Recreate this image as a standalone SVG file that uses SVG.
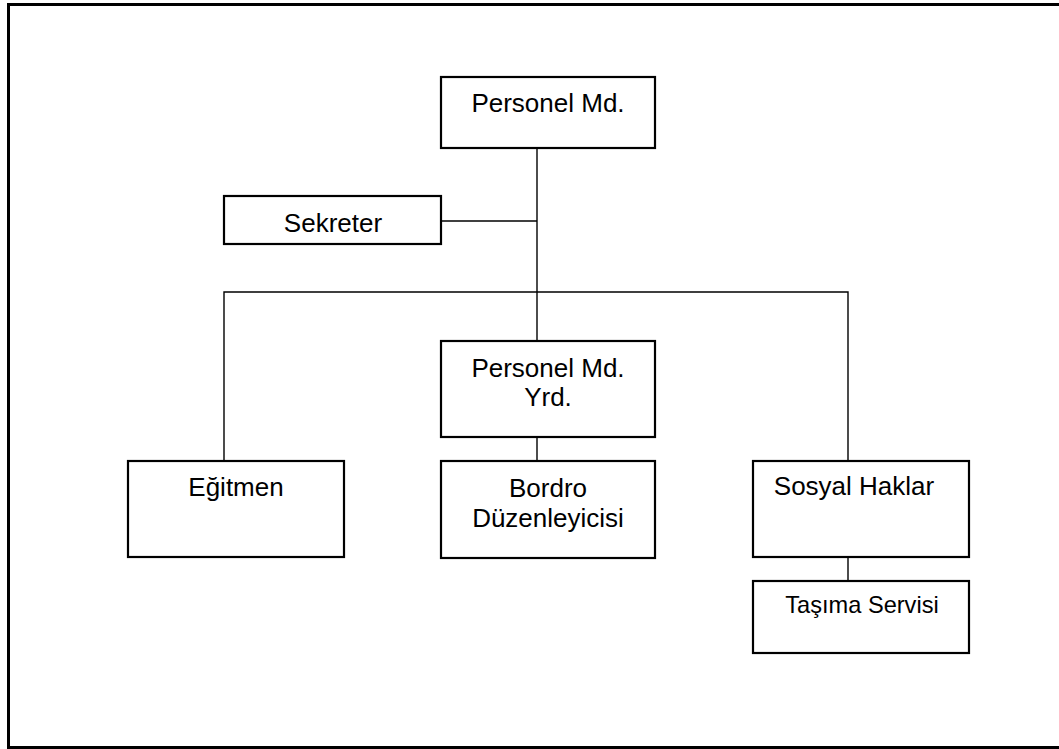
<svg xmlns="http://www.w3.org/2000/svg" width="1059" height="749" viewBox="0 0 1059 749">
<style>
.box{fill:#fff;stroke:#000;stroke-width:2.2}
.ln{stroke:#000;stroke-width:1.4;fill:none}
.t{font-family:"Liberation Sans",Arial,sans-serif;font-size:26px;text-anchor:middle;fill:#000}
</style>
<rect x="0" y="0" width="1059" height="749" fill="#fff"/>
<rect x="8.5" y="4.5" width="1053" height="743" fill="none" stroke="#000" stroke-width="3"/>
<g id="connectors">
<line class="ln" x1="537" y1="148" x2="537" y2="341"/>
<line class="ln" x1="441" y1="221" x2="537" y2="221"/>
<polyline class="ln" points="224,461 224,292 848,292 848,461"/>
<line class="ln" x1="537" y1="437" x2="537" y2="461"/>
<line class="ln" x1="848" y1="557" x2="848" y2="581"/>
</g>
<g id="personel-md">
<rect class="box" x="441" y="77" width="214" height="71"/>
<text class="t" x="548" y="112">Personel Md.</text>
</g>
<g id="sekreter">
<rect class="box" x="224" y="196" width="217" height="48"/>
<text class="t" x="333" y="232">Sekreter</text>
</g>
<g id="personel-md-yrd">
<rect class="box" x="441" y="341" width="214" height="96"/>
<text class="t" x="548" y="377">Personel Md.</text>
<text class="t" x="548" y="406">Yrd.</text>
</g>
<g id="egitmen">
<rect class="box" x="128" y="461" width="216" height="96"/>
<text class="t" x="236" y="496">Eğitmen</text>
</g>
<g id="bordro">
<rect class="box" x="441" y="461" width="214" height="97"/>
<text class="t" x="548" y="497">Bordro</text>
<text class="t" x="548" y="527">Düzenleyicisi</text>
</g>
<g id="sosyal-haklar">
<rect class="box" x="753" y="461" width="216" height="96"/>
<text class="t" x="854" y="495">Sosyal Haklar</text>
</g>
<g id="tasima-servisi">
<rect class="box" x="753" y="581" width="216" height="72"/>
<text class="t" x="862" y="613" style="font-size:23.6px">Taşıma Servisi</text>
</g>
</svg>
